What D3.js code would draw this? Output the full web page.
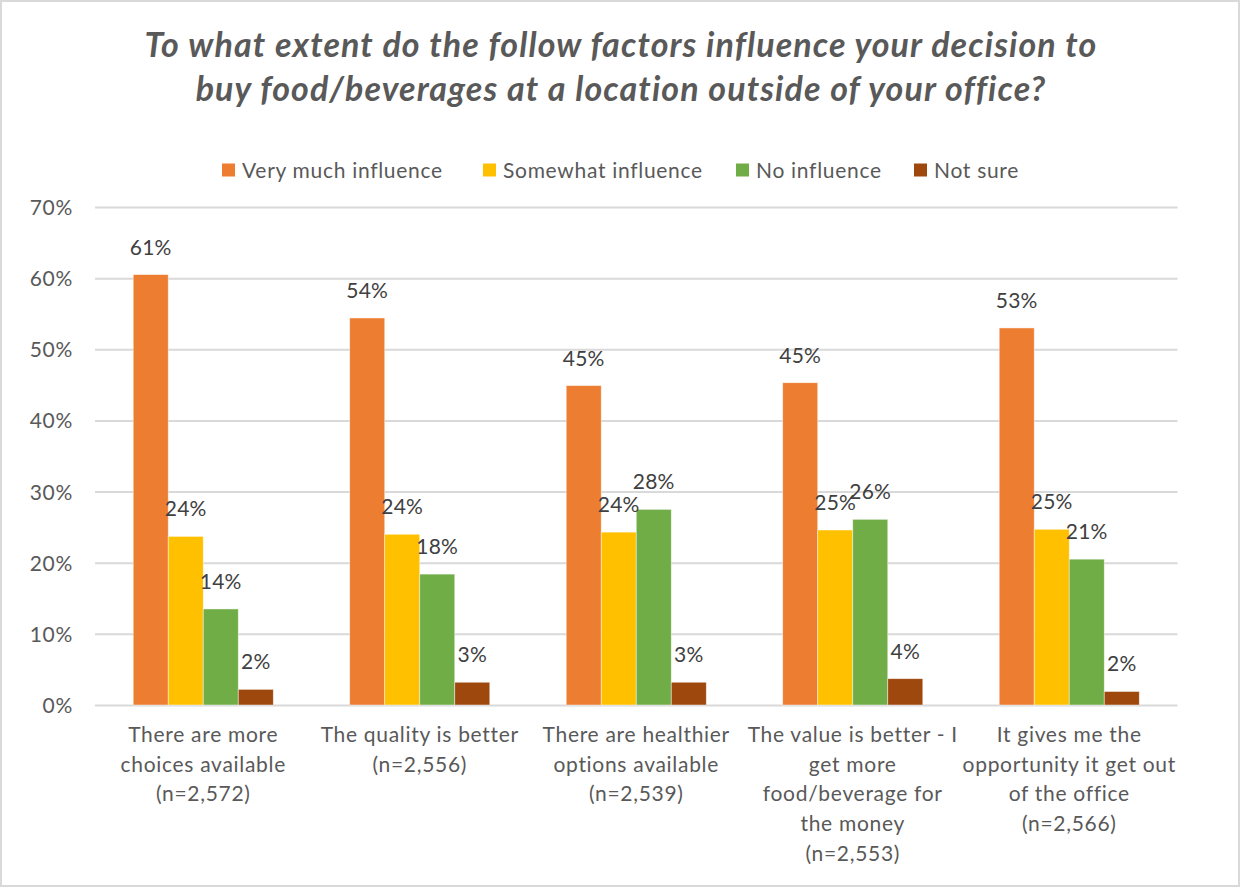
<!DOCTYPE html>
<html>
<head>
<meta charset="utf-8">
<script src="https://cdn.jsdelivr.net/npm/d3@7"></script>
<style>
  html, body { margin: 0; padding: 0; background: #fff; }
  svg { display: block; }
  text { font-family: Lato, "Open Sans", sans-serif; }
</style>
</head>
<body>
<svg id="chart" width="1241" height="888"></svg>
<script>
// Survey: factors influencing buying food/beverages outside the office
const titleLines = [
  "To what extent do the follow factors influence your decision to",
  "buy food/beverages at a location outside of your office?"
];
const categories = [
  ["There are more", "choices available", "(n=2,572)"],
  ["The quality is better", "(n=2,556)"],
  ["There are healthier", "options available", "(n=2,539)"],
  ["The value is better - I", "get more", "food/beverage for", "the money", "(n=2,553)"],
  ["It gives me the", "opportunity it get out", "of the office", "(n=2,566)"]
];
const seriesNames = ["Very much influence", "Somewhat influence", "No influence", "Not sure"];
const seriesColors = ["#ED7D31", "#FFC000", "#70AD47", "#9E480E"];
const veryMuch   = [0.605, 0.544, 0.449, 0.453, 0.530];
const somewhat   = [0.237, 0.240, 0.243, 0.246, 0.247];
const noInfluence= [0.135, 0.184, 0.275, 0.261, 0.205];
const notSure    = [0.022, 0.032, 0.032, 0.037, 0.019];
const yTicks = [0, 0.1, 0.2, 0.3, 0.4, 0.5, 0.6, 0.7];

const seriesValues = [veryMuch, somewhat, noInfluence, notSure];
const svg = d3.select("#chart");
const W = 1241, H = 888;
const m = { left: 95, right: 1177.5, top: 207, bottom: 705 };
const bodySize = 21, bodySpacing = "0.7px";

// chart frame
svg.append("rect")
  .attr("x", 1).attr("y", 1).attr("width", W - 3).attr("height", H - 3)
  .attr("fill", "#fff").attr("stroke", "#D9D9D9").attr("stroke-width", 2);

// title
svg.append("g").selectAll("text").data(titleLines).join("text")
  .attr("x", 621).attr("y", (d, i) => 57 + i * 44)
  .attr("text-anchor", "middle")
  .attr("font-size", 34).attr("font-weight", 700).attr("font-style", "italic")
  .attr("letter-spacing", "1.1px")
  .attr("fill", "#595959")
  .text(d => d);

const x0 = d3.scaleBand().domain(d3.range(categories.length))
  .range([m.left, m.right]).paddingInner(0).paddingOuter(0);
const groupW = x0.bandwidth() * 0.647;
const x1 = d3.scaleBand().domain(d3.range(seriesNames.length))
  .range([0, groupW]);
const y = d3.scaleLinear().domain([0, 0.7]).range([m.bottom, m.top]);

// gridlines and y axis
const yAxis = d3.axisLeft(y).tickValues(yTicks).tickFormat(d3.format(".0%"))
  .tickSize(-(m.right - m.left)).tickPadding(22);
const gy = svg.append("g").attr("transform", `translate(${m.left},0)`).call(yAxis);
gy.select(".domain").remove();
gy.selectAll(".tick line").attr("stroke", "#D9D9D9").attr("stroke-width", 2);
gy.selectAll(".tick text").attr("fill", "#595959").attr("font-size", bodySize)
  .attr("letter-spacing", bodySpacing)
  .attr("font-family", "Lato, sans-serif").attr("dy", "0.36em");

// bars
const groups = svg.append("g").selectAll("g").data(categories).join("g")
  .attr("transform", (d, i) => `translate(${x0(i) + (x0.bandwidth() - groupW) / 2},0)`);

groups.each(function (cat, ci) {
  const g = d3.select(this);
  const vals = seriesValues.map((s, si) => ({ si, v: s[ci] }));
  g.selectAll("rect").data(vals).join("rect")
    .attr("x", d => x1(d.si)).attr("width", x1.bandwidth())
    .attr("y", d => y(d.v)).attr("height", d => y(0) - y(d.v))
    .attr("fill", d => seriesColors[d.si])
    .attr("stroke", "#fff").attr("stroke-opacity", 0.6).attr("stroke-width", 0.75);
  g.selectAll("text.lbl").data(vals).join("text").attr("class", "lbl")
    .attr("x", d => x1(d.si) + x1.bandwidth() / 2)
    .attr("y", d => y(d.v) - 20)
    .attr("text-anchor", "middle").attr("font-size", bodySize)
    .attr("letter-spacing", "0.2px").attr("fill", "#404040")
    .text(d => d3.format(".0%")(d.v));
});

// category labels
const cl = svg.append("g").selectAll("text").data(categories).join("text")
  .attr("text-anchor", "middle").attr("font-size", bodySize)
  .attr("letter-spacing", bodySpacing).attr("fill", "#595959");
cl.each(function (lines, i) {
  d3.select(this).selectAll("tspan").data(lines).join("tspan")
    .attr("x", x0(i) + x0.bandwidth() / 2)
    .attr("y", (d, j) => 742 + j * 29.7)
    .text(d => d);
});

// legend
const legendX = [222, 483, 736, 914];
const lg = svg.append("g").selectAll("g").data(seriesNames).join("g")
  .attr("transform", (d, i) => `translate(${legendX[i]},170)`);
lg.append("rect").attr("x", 0).attr("y", -6.5).attr("width", 13).attr("height", 13)
  .attr("fill", (d, i) => seriesColors[i]);
lg.append("text").attr("x", 20).attr("y", 7.5).attr("font-size", bodySize)
  .attr("letter-spacing", bodySpacing)
  .attr("fill", "#595959").text(d => d);
</script>
</body>
</html>
